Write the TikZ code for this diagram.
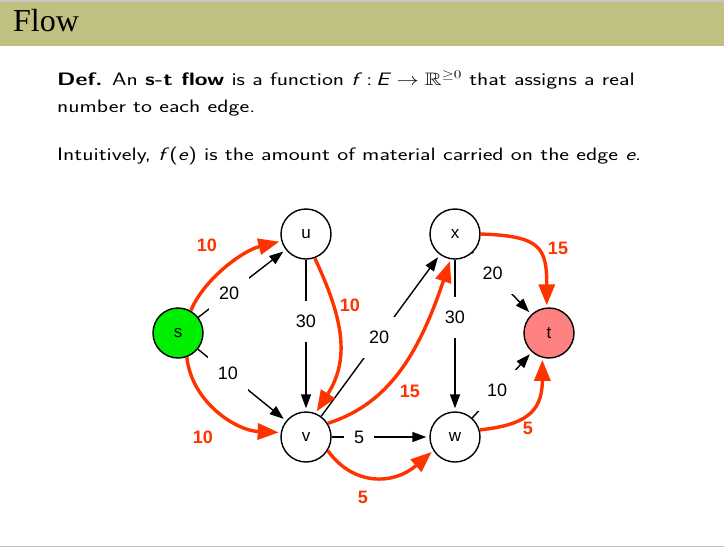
\documentclass[tikz,border=0pt]{standalone}
\usepackage{fontspec}
\usepackage{amssymb}
\usepackage{graphicx}
\usetikzlibrary{arrows.meta,calc}
\newfontfamily\helv{Liberation Sans}
\newfontfamily\titlefont{Liberation Serif}
\definecolor{hdr}{RGB}{192,192,128}
\definecolor{flowred}{RGB}{255,51,0}
\definecolor{sgreen}{RGB}{0,238,0}
\definecolor{tred}{RGB}{255,128,128}
\newcommand{\widetext}[1]{\scalebox{1.29}[1]{#1}}
\tikzset{
  vtx/.style={circle,draw=black,line width=1.4pt,minimum size=50pt,inner sep=0pt,fill=white,font=\helv\fontsize{17}{17}\selectfont},
  capedge/.style={draw=black,line width=1.4pt,-{Triangle[length=14pt,width=10pt]},shorten >=3pt},
  lbl/.style={fill=white,inner xsep=10pt,inner ysep=14pt,font=\helv\fontsize{18}{18}\selectfont},
  flw/.style={draw=flowred,line width=3.4pt,-{Triangle[length=21pt,width=16pt]},shorten >=2pt},
  flbl/.style={text=flowred,inner sep=0pt,font=\helv\bfseries\fontsize{18}{18}\selectfont},
  body/.style={anchor=base west,inner sep=0pt,font=\sffamily\fontsize{18}{20}\selectfont}
}
\begin{document}
\begin{tikzpicture}[x=1pt,y=1pt]
\useasboundingbox (0,0) rectangle (724,-547);
\fill[white] (0,0) rectangle (724,-547);
% header
\fill[gray!45] (0,0) rectangle (724,-2);
\fill[hdr] (0,-2) rectangle (724,-46);
\node[anchor=base west,inner sep=0pt,font=\titlefont\fontsize{32}{32}\selectfont] (title) at (13,-31) {Flow};
\fill[gray!50] (0,-545.5) rectangle (724,-547);
% text
\node[body] (l1) at (57,-85) {\widetext{\textbf{Def.} An \textbf{s-t flow} is a function {\itshape f\/}\,:\,{\itshape E} $\rightarrow\mathbb{R}^{\geq 0}$ that assigns a real}};
\node[body] (l2) at (57,-112) {\widetext{number to each edge.}};
\node[body] (l3) at (57,-160) {\widetext{Intuitively, {\itshape f\/}(\textit{e}) is the amount of material carried on the edge \textit{e}.}};
% nodes
\node[vtx,fill=sgreen] (s) at (178,-333) {s};
\node[vtx] (u) at (306,-234) {u};
\node[vtx] (v) at (306,-437) {v};
\node[vtx] (x) at (455,-234) {x};
\node[vtx] (w) at (455,-437) {w};
\node[vtx,fill=tred] (t) at (549,-333) {t};
% capacity edges
\draw[capedge] (s) -- (u);
\draw[capedge] (s) -- (v);
\draw[capedge] (u) -- (v);
\draw[capedge] (v) -- (x);
\draw[capedge] (x) -- (w);
\draw[capedge] (v) -- (w);
\draw[capedge] (x) -- (t);
\draw[capedge] (w) -- (t);
\node[lbl] (csu) at ($(s)!0.4!(u)$) {20};
\node[lbl] (csv) at ($(s)!0.39!(v)$) {10};
\node[lbl] (cuv) at ($(u)!0.43!(v)$) {30};
\node[lbl] (cvx) at ($(v)!0.49!(x)$) {20};
\node[lbl] (cxw) at ($(x)!0.41!(w)$) {30};
\node[lbl] (cvw) at ($(v)!0.356!(w)$) {5};
\node[lbl] (cxt) at ($(x)!0.4!(t)$) {20};
\node[lbl] (cwt) at ($(w)!0.447!(t)$) {10};
% flow edges
\draw[flw] (s.60) .. controls +(12,30) and +(-40,-10) .. (u.196);
\draw[flw] (s.-70) .. controls +(5,-45) and +(-45,2) .. (v.170);
\draw[flw] (u.-70) .. controls +(28,-60) and +(35,55) .. (v.68);
\draw[flw] (v.32) .. controls +(55,18) and +(-35,-105) .. (x.-100);
\draw[flw] (v.-32) .. controls +(25,-35) and +(-40,-35) .. (w.212);
\draw[flw] (x.0) .. controls +(60,-2) and +(0,60) .. (t.95);
\draw[flw] (w.16) .. controls +(45,5) and +(0,-55) .. (t.-105);
\node[flbl] (fsu) at (207,-245) {10};
\node[flbl] (fsv) at (203,-437) {10};
\node[flbl] (fuv) at (350,-305) {10};
\node[flbl] (fvx) at (410,-391) {15};
\node[flbl] (fvw) at (363,-497) {5};
\node[flbl] (fxt) at (558,-248) {15};
\node[flbl] (fwt) at (528,-428) {5};
\end{tikzpicture}
\end{document}
